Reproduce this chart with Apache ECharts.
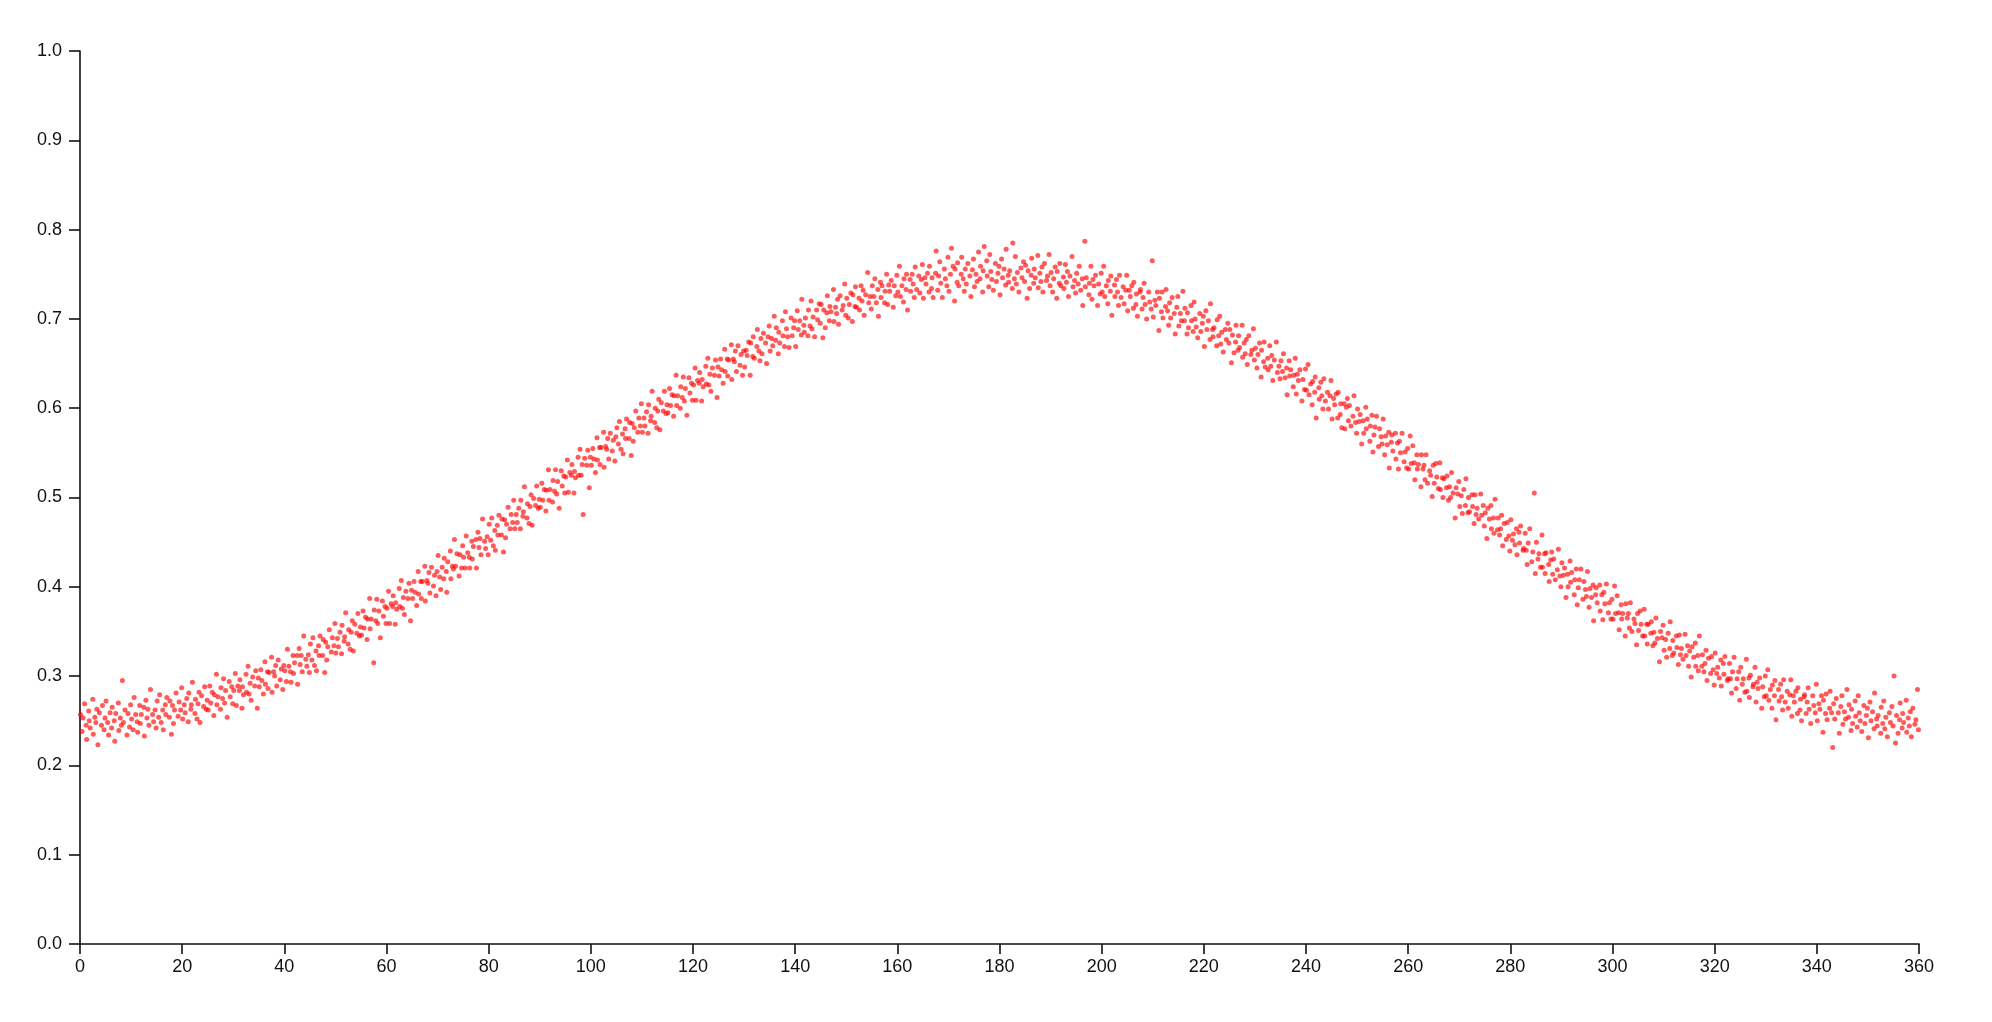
<!DOCTYPE html>
<html>
<head>
<meta charset="utf-8">
<script src="https://cdn.jsdelivr.net/npm/echarts@6/dist/echarts.min.js"></script>
<style>
html,body{margin:0;padding:0;background:#fff;}
#chart{width:1992px;height:1022px;}
</style>
</head>
<body>
<div id="chart"></div>
<script>
// Axis ranges and tick steps
const xRange = [0, 360];
const xStep = 20;
const yRange = [0, 1];
const yStep = 0.1;

// Scatter samples [angle, value] read (estimated) from the reference picture
const samples = [
[0.1,.257],[0.4,.238],[0.6,.253],[0.9,.269],
[1.2,.245],[1.3,.229],[1.7,.261],[1.8,.250],
[2.0,.242],[2.5,.274],[2.6,.235],[2.9,.254],
[3.1,.248],[3.3,.263],[3.5,.223],[3.8,.259],
[4.2,.245],[4.4,.267],[4.7,.240],[4.9,.253],
[5.1,.272],[5.4,.248],[5.6,.234],[5.9,.259],
[6.2,.242],[6.3,.265],[6.7,.250],[6.8,.227],
[7.0,.258],[7.5,.270],[7.6,.239],[7.9,.253],
[8.1,.245],[8.3,.295],[8.5,.248],[8.8,.262],
[9.2,.234],[9.4,.258],[9.7,.243],[9.9,.268],
[10.1,.252],[10.4,.240],[10.6,.276],[10.9,.257],
[11.2,.249],[11.3,.237],[11.7,.267],[11.8,.247],
[12.0,.257],[12.5,.265],[12.6,.233],[12.9,.273],
[13.1,.253],[13.3,.263],[13.5,.245],[13.8,.285],
[14.2,.257],[14.4,.249],[14.7,.262],[14.9,.242],
[15.1,.272],[15.4,.254],[15.6,.279],[15.9,.248],
[16.2,.262],[16.3,.240],[16.7,.268],[16.8,.257],
[17.0,.276],[17.5,.254],[17.6,.272],[17.9,.235],
[18.1,.267],[18.3,.247],[18.5,.262],[18.8,.281],
[19.2,.255],[19.4,.271],[19.7,.262],[19.9,.287],
[20.1,.252],[20.4,.268],[20.6,.259],[20.9,.275],
[21.2,.249],[21.3,.281],[21.7,.263],[21.8,.268],
[22.0,.293],[22.5,.258],[22.6,.274],[22.9,.252],
[23.1,.269],[23.3,.282],[23.5,.248],[23.8,.278],
[24.2,.266],[24.4,.288],[24.7,.263],[24.9,.273],
[25.1,.262],[25.4,.289],[25.6,.270],[25.9,.282],
[26.2,.256],[26.3,.279],[26.7,.302],[26.8,.268],
[27.0,.277],[27.5,.263],[27.6,.287],[27.9,.275],
[28.1,.297],[28.3,.270],[28.5,.284],[28.8,.254],
[29.2,.294],[29.4,.277],[29.7,.288],[29.9,.269],
[30.1,.284],[30.4,.303],[30.6,.267],[30.9,.289],
[31.2,.284],[31.3,.296],[31.7,.264],[31.8,.288],
[32.0,.279],[32.5,.302],[32.6,.282],[32.9,.311],
[33.1,.280],[33.3,.292],[33.5,.273],[33.8,.299],
[34.2,.289],[34.4,.306],[34.7,.264],[34.9,.298],
[35.1,.288],[35.4,.307],[35.6,.295],[35.9,.280],
[36.2,.316],[36.3,.291],[36.7,.305],[36.8,.286],
[37.0,.304],[37.5,.321],[37.6,.282],[37.9,.305],
[38.1,.300],[38.3,.312],[38.5,.289],[38.8,.318],
[39.2,.296],[39.4,.308],[39.7,.285],[39.9,.312],
[40.1,.306],[40.4,.294],[40.6,.330],[40.9,.311],
[41.2,.305],[41.3,.293],[41.7,.323],[41.8,.303],
[42.0,.315],[42.5,.323],[42.6,.291],[42.9,.331],
[43.1,.313],[43.3,.323],[43.5,.305],[43.8,.345],
[44.2,.319],[44.4,.311],[44.7,.324],[44.9,.304],
[45.1,.336],[45.4,.318],[45.6,.343],[45.9,.312],
[46.2,.328],[46.3,.306],[46.7,.334],[46.8,.323],
[47.0,.345],[47.5,.323],[47.6,.341],[47.9,.304],
[48.1,.338],[48.3,.318],[48.5,.333],[48.8,.352],
[49.2,.327],[49.4,.343],[49.7,.334],[49.9,.359],
[50.1,.326],[50.4,.342],[50.6,.333],[50.9,.349],
[51.2,.325],[51.3,.357],[51.7,.339],[51.8,.344],
[52.0,.371],[52.5,.336],[52.6,.352],[52.9,.330],
[53.1,.349],[53.3,.362],[53.5,.328],[53.8,.358],
[54.2,.348],[54.4,.370],[54.7,.345],[54.9,.355],
[55.1,.346],[55.4,.373],[55.6,.354],[55.9,.366],
[56.2,.341],[56.3,.364],[56.7,.387],[56.8,.353],
[57.0,.364],[57.5,.315],[57.6,.374],[57.9,.362],
[58.1,.386],[58.3,.359],[58.5,.373],[58.8,.343],
[59.2,.384],[59.4,.367],[59.7,.378],[59.9,.359],
[60.1,.376],[60.4,.395],[60.6,.359],[60.9,.381],
[61.2,.378],[61.3,.390],[61.7,.358],[61.8,.382],
[62.0,.375],[62.5,.398],[62.6,.378],[62.9,.407],
[63.1,.376],[63.3,.388],[63.5,.369],[63.8,.395],
[64.2,.387],[64.4,.404],[64.7,.362],[64.9,.396],
[65.1,.387],[65.4,.406],[65.6,.394],[65.9,.379],
[66.2,.417],[66.3,.392],[66.7,.406],[66.8,.387],
[67.0,.406],[67.5,.423],[67.6,.384],[67.9,.407],
[68.1,.404],[68.3,.416],[68.5,.393],[68.8,.422],
[69.2,.401],[69.4,.413],[69.7,.390],[69.9,.417],
[70.1,.435],[70.4,.411],[70.6,.397],[70.9,.422],
[71.2,.409],[71.3,.432],[71.7,.417],[71.8,.394],
[72.0,.428],[72.5,.440],[72.6,.409],[72.9,.423],
[73.1,.420],[73.3,.453],[73.5,.423],[73.8,.437],
[74.2,.412],[74.4,.436],[74.7,.421],[74.9,.446],
[75.1,.433],[75.4,.421],[75.6,.457],[75.9,.438],
[76.2,.433],[76.3,.421],[76.7,.451],[76.8,.431],
[77.0,.445],[77.5,.453],[77.6,.421],[77.9,.461],
[78.1,.444],[78.3,.454],[78.5,.436],[78.8,.476],
[79.2,.451],[79.4,.443],[79.7,.456],[79.9,.436],
[80.1,.470],[80.4,.452],[80.6,.477],[80.9,.446],
[81.2,.463],[81.3,.441],[81.7,.469],[81.8,.458],
[82.0,.480],[82.5,.458],[82.6,.476],[82.9,.439],
[83.1,.475],[83.3,.455],[83.5,.470],[83.8,.489],
[84.2,.465],[84.4,.481],[84.7,.472],[84.9,.497],
[85.1,.465],[85.4,.481],[85.6,.472],[85.9,.488],
[86.2,.465],[86.3,.497],[86.7,.479],[86.8,.484],
[87.0,.512],[87.5,.477],[87.6,.493],[87.9,.471],
[88.1,.490],[88.3,.503],[88.5,.469],[88.8,.499],
[89.2,.491],[89.4,.513],[89.7,.488],[89.9,.498],
[90.1,.489],[90.4,.516],[90.6,.497],[90.9,.509],
[91.2,.485],[91.3,.508],[91.7,.531],[91.8,.497],
[92.0,.509],[92.5,.495],[92.6,.519],[92.9,.507],
[93.1,.531],[93.3,.504],[93.5,.518],[93.8,.488],
[94.2,.530],[94.4,.513],[94.7,.524],[94.9,.505],
[95.1,.523],[95.4,.542],[95.6,.506],[95.9,.528],
[96.2,.525],[96.3,.537],[96.7,.505],[96.8,.529],
[97.0,.522],[97.5,.545],[97.6,.525],[97.9,.554],
[98.1,.525],[98.3,.537],[98.5,.481],[98.8,.544],
[99.2,.536],[99.4,.553],[99.7,.511],[99.9,.545],
[100.1,.536],[100.4,.555],[100.6,.543],[100.9,.528],
[101.2,.567],[101.3,.542],[101.7,.556],[101.8,.537],
[102.0,.556],[102.5,.573],[102.6,.534],[102.9,.557],
[103.1,.554],[103.3,.566],[103.5,.543],[103.8,.572],
[104.2,.552],[104.4,.564],[104.7,.541],[104.9,.568],
[105.1,.578],[105.4,.560],[105.6,.585],[105.9,.554],
[106.2,.571],[106.3,.549],[106.7,.577],[106.8,.566],
[107.0,.588],[107.5,.566],[107.6,.584],[107.9,.547],
[108.1,.583],[108.3,.563],[108.5,.578],[108.8,.597],
[109.2,.573],[109.4,.589],[109.7,.580],[109.9,.605],
[110.1,.573],[110.4,.589],[110.6,.580],[110.9,.596],
[111.2,.572],[111.3,.604],[111.7,.586],[111.8,.591],
[112.0,.619],[112.5,.584],[112.6,.600],[112.9,.578],
[113.1,.597],[113.3,.610],[113.5,.576],[113.8,.606],
[114.2,.597],[114.4,.619],[114.7,.594],[114.9,.604],
[115.1,.595],[115.4,.622],[115.6,.603],[115.9,.615],
[116.2,.591],[116.3,.614],[116.7,.637],[116.8,.603],
[117.0,.614],[117.5,.600],[117.6,.624],[117.9,.612],
[118.1,.635],[118.3,.608],[118.5,.622],[118.8,.592],
[119.2,.634],[119.4,.617],[119.7,.628],[119.9,.609],
[120.1,.626],[120.4,.645],[120.6,.609],[120.9,.631],
[121.2,.628],[121.3,.640],[121.7,.608],[121.8,.632],
[122.0,.624],[122.5,.647],[122.6,.627],[122.9,.656],
[123.1,.626],[123.3,.638],[123.5,.619],[123.8,.645],
[124.2,.637],[124.4,.654],[124.7,.612],[124.9,.646],
[125.1,.636],[125.4,.655],[125.6,.643],[125.9,.628],
[126.2,.666],[126.3,.641],[126.7,.655],[126.8,.636],
[127.0,.654],[127.5,.671],[127.6,.632],[127.9,.655],
[128.1,.652],[128.3,.664],[128.5,.641],[128.8,.670],
[129.2,.648],[129.4,.660],[129.7,.637],[129.9,.664],
[130.1,.646],[130.4,.665],[130.6,.659],[130.9,.674],
[131.2,.637],[131.3,.673],[131.7,.658],[131.8,.680],
[132.0,.656],[132.5,.669],[132.6,.688],[132.9,.664],
[133.1,.653],[133.3,.678],[133.5,.661],[133.8,.684],
[134.2,.673],[134.4,.650],[134.7,.680],[134.9,.692],
[135.1,.664],[135.4,.678],[135.6,.670],[135.9,.703],
[136.2,.676],[136.3,.690],[136.7,.661],[136.8,.685],
[137.0,.673],[137.5,.698],[137.6,.681],[137.9,.669],
[138.1,.708],[138.3,.689],[138.5,.680],[138.8,.668],
[139.2,.701],[139.4,.681],[139.7,.690],[139.9,.698],
[140.1,.669],[140.4,.709],[140.6,.688],[140.9,.698],
[141.2,.682],[141.3,.722],[141.7,.693],[141.8,.685],
[142.0,.701],[142.5,.681],[142.6,.710],[142.9,.692],
[143.1,.720],[143.3,.689],[143.5,.702],[143.8,.680],
[144.2,.710],[144.4,.699],[144.7,.717],[144.9,.695],
[145.1,.716],[145.4,.679],[145.6,.710],[145.9,.690],
[146.2,.707],[146.3,.726],[146.7,.698],[146.8,.714],
[147.0,.708],[147.5,.733],[147.6,.697],[147.9,.713],
[148.1,.706],[148.3,.722],[148.5,.694],[148.8,.726],
[149.2,.710],[149.4,.715],[149.7,.739],[149.9,.704],
[150.1,.723],[150.4,.701],[150.6,.716],[150.9,.729],
[151.2,.697],[151.3,.727],[151.7,.714],[151.8,.736],
[152.0,.713],[152.5,.723],[152.6,.710],[152.9,.737],
[153.1,.720],[153.3,.732],[153.5,.704],[153.8,.727],
[154.2,.752],[154.4,.718],[154.7,.725],[154.9,.711],
[155.1,.737],[155.4,.725],[155.6,.745],[155.9,.718],
[156.2,.733],[156.3,.703],[156.7,.741],[156.8,.724],
[157.0,.737],[157.5,.718],[157.6,.731],[157.9,.750],
[158.1,.716],[158.3,.738],[158.5,.731],[158.8,.743],
[159.2,.713],[159.4,.737],[159.7,.726],[159.9,.749],
[160.1,.730],[160.4,.759],[160.6,.725],[160.9,.737],
[161.2,.719],[161.3,.745],[161.7,.733],[161.8,.750],
[162.0,.710],[162.5,.744],[162.6,.731],[162.9,.750],
[163.1,.739],[163.3,.724],[163.5,.758],[163.8,.733],
[164.2,.748],[164.4,.729],[164.7,.744],[164.9,.761],
[165.1,.723],[165.4,.746],[165.6,.739],[165.9,.751],
[166.2,.730],[166.3,.759],[166.7,.734],[166.8,.746],
[167.0,.724],[167.5,.751],[167.6,.776],[167.9,.732],
[168.1,.748],[168.3,.764],[168.5,.740],[168.8,.724],
[169.2,.756],[169.4,.745],[169.7,.737],[169.9,.769],
[170.1,.731],[170.4,.750],[170.6,.779],[170.9,.759],
[171.2,.720],[171.3,.756],[171.7,.741],[171.8,.763],
[172.0,.737],[172.5,.750],[172.6,.769],[172.9,.745],
[173.1,.731],[173.3,.756],[173.5,.739],[173.8,.762],
[174.2,.748],[174.4,.725],[174.7,.755],[174.9,.767],
[175.1,.736],[175.4,.750],[175.6,.742],[175.9,.775],
[176.2,.745],[176.3,.759],[176.7,.730],[176.8,.754],
[177.0,.781],[177.5,.765],[177.6,.748],[177.9,.736],
[178.1,.772],[178.3,.753],[178.5,.744],[178.8,.732],
[179.2,.762],[179.4,.742],[179.7,.751],[179.9,.759],
[180.1,.727],[180.4,.767],[180.6,.746],[180.9,.756],
[181.2,.738],[181.3,.778],[181.7,.749],[181.8,.741],
[182.0,.754],[182.5,.734],[182.6,.785],[182.9,.745],
[183.1,.770],[183.3,.739],[183.5,.752],[183.8,.730],
[184.2,.757],[184.4,.746],[184.7,.764],[184.9,.742],
[185.1,.760],[185.4,.723],[185.6,.754],[185.9,.734],
[186.2,.749],[186.3,.768],[186.7,.740],[186.8,.756],
[187.0,.746],[187.5,.771],[187.6,.735],[187.9,.751],
[188.1,.742],[188.3,.758],[188.5,.730],[188.8,.762],
[189.2,.743],[189.4,.748],[189.7,.772],[189.9,.737],
[190.1,.752],[190.4,.730],[190.6,.745],[190.9,.758],
[191.2,.723],[191.3,.753],[191.7,.740],[191.8,.762],
[192.0,.737],[192.5,.747],[192.6,.734],[192.9,.761],
[193.1,.741],[193.3,.753],[193.5,.725],[193.8,.748],
[194.2,.770],[194.4,.736],[194.7,.743],[194.9,.729],
[195.1,.751],[195.4,.739],[195.6,.759],[195.9,.732],
[196.2,.745],[196.3,.715],[196.7,.787],[196.8,.736],
[197.0,.746],[197.5,.727],[197.6,.740],[197.9,.759],
[198.1,.722],[198.3,.744],[198.5,.737],[198.8,.749],
[199.2,.715],[199.4,.739],[199.7,.728],[199.9,.751],
[200.1,.730],[200.4,.759],[200.6,.725],[200.9,.737],
[201.2,.717],[201.3,.743],[201.7,.731],[201.8,.748],
[202.0,.704],[202.5,.738],[202.6,.725],[202.9,.744],
[203.1,.730],[203.3,.715],[203.5,.749],[203.8,.724],
[204.2,.736],[204.4,.717],[204.7,.732],[204.9,.749],
[205.1,.709],[205.4,.732],[205.6,.725],[205.9,.737],
[206.2,.712],[206.3,.741],[206.7,.716],[206.8,.728],
[207.0,.703],[207.5,.730],[207.6,.733],[207.9,.711],
[208.1,.724],[208.3,.740],[208.5,.716],[208.8,.700],
[209.2,.730],[209.4,.719],[209.7,.711],[209.9,.765],
[210.1,.702],[210.4,.721],[210.6,.715],[210.9,.730],
[211.2,.687],[211.3,.723],[211.7,.708],[211.8,.730],
[212.0,.701],[212.5,.714],[212.6,.733],[212.9,.709],
[213.1,.693],[213.3,.718],[213.5,.701],[213.8,.724],
[214.2,.706],[214.4,.683],[214.7,.713],[214.9,.725],
[215.1,.692],[215.4,.706],[215.6,.698],[215.9,.731],
[216.2,.698],[216.3,.712],[216.7,.683],[216.8,.707],
[217.0,.690],[217.5,.715],[217.6,.698],[217.9,.686],
[218.1,.719],[218.3,.700],[218.5,.691],[218.8,.679],
[219.2,.706],[219.4,.686],[219.7,.695],[219.9,.703],
[220.1,.669],[220.4,.709],[220.6,.688],[220.9,.698],
[221.2,.677],[221.3,.717],[221.7,.688],[221.8,.680],
[222.0,.690],[222.5,.670],[222.6,.699],[222.9,.681],
[223.1,.703],[223.3,.672],[223.5,.685],[223.8,.663],
[224.2,.688],[224.4,.677],[224.7,.695],[224.9,.673],
[225.1,.688],[225.4,.651],[225.6,.682],[225.9,.662],
[226.2,.674],[226.3,.693],[226.7,.665],[226.8,.681],
[227.0,.668],[227.5,.693],[227.6,.657],[227.9,.673],
[228.1,.661],[228.3,.677],[228.5,.649],[228.8,.681],
[229.2,.660],[229.4,.665],[229.7,.689],[229.9,.654],
[230.1,.667],[230.4,.645],[230.6,.660],[230.9,.673],
[231.2,.635],[231.3,.665],[231.7,.652],[231.8,.674],
[232.0,.646],[232.5,.656],[232.6,.643],[232.9,.670],
[233.1,.647],[233.3,.659],[233.5,.631],[233.8,.654],
[234.2,.674],[234.4,.640],[234.7,.647],[234.9,.633],
[235.1,.653],[235.4,.641],[235.6,.661],[235.9,.634],
[236.2,.645],[236.3,.615],[236.7,.653],[236.8,.636],
[237.0,.643],[237.5,.624],[237.6,.637],[237.9,.656],
[238.1,.616],[238.3,.638],[238.5,.631],[238.8,.643],
[239.2,.608],[239.4,.632],[239.7,.621],[239.9,.644],
[240.1,.620],[240.4,.649],[240.6,.615],[240.9,.627],
[241.2,.604],[241.3,.630],[241.7,.618],[241.8,.635],
[242.0,.589],[242.5,.623],[242.6,.610],[242.9,.629],
[243.1,.614],[243.3,.599],[243.5,.633],[243.8,.608],
[244.2,.618],[244.4,.599],[244.7,.614],[244.9,.631],
[245.1,.588],[245.4,.611],[245.6,.604],[245.9,.616],
[246.2,.589],[246.3,.618],[246.7,.593],[246.8,.605],
[247.0,.578],[247.5,.605],[247.6,.577],[247.9,.601],
[248.1,.611],[248.3,.586],[248.5,.603],[248.8,.580],
[249.2,.591],[249.4,.614],[249.7,.584],[249.9,.572],
[250.1,.599],[250.4,.585],[250.6,.593],[250.9,.560],
[251.2,.586],[251.3,.572],[251.7,.601],[251.8,.577],
[252.0,.588],[252.5,.563],[252.6,.580],[252.9,.592],
[253.1,.551],[253.3,.570],[253.5,.579],[253.8,.591],
[254.2,.557],[254.4,.577],[254.7,.568],[254.9,.560],
[255.1,.588],[255.4,.548],[255.6,.569],[255.9,.559],
[256.2,.573],[256.3,.533],[256.7,.562],[256.8,.570],
[257.0,.552],[257.5,.572],[257.6,.543],[257.9,.561],
[258.1,.532],[258.3,.563],[258.5,.550],[258.8,.572],
[259.2,.540],[259.4,.551],[259.7,.533],[259.9,.555],
[260.1,.532],[260.4,.569],[260.6,.538],[260.9,.558],
[261.2,.539],[261.3,.520],[261.7,.548],[261.8,.532],
[262.0,.537],[262.5,.512],[262.6,.548],[262.9,.532],
[263.1,.536],[263.3,.520],[263.5,.548],[263.8,.516],
[264.2,.530],[264.4,.525],[264.7,.501],[264.9,.536],
[265.1,.516],[265.4,.538],[265.6,.523],[265.9,.510],
[266.2,.539],[266.3,.509],[266.7,.522],[266.8,.500],
[267.0,.521],[267.5,.511],[267.6,.524],[267.9,.497],
[268.1,.512],[268.3,.500],[268.5,.528],[268.8,.505],
[269.2,.477],[269.4,.511],[269.7,.504],[269.9,.518],
[270.1,.490],[270.4,.502],[270.6,.482],[270.9,.509],
[271.2,.491],[271.3,.521],[271.7,.483],[271.8,.500],
[272.0,.484],[272.5,.503],[272.6,.490],[272.9,.471],
[273.1,.503],[273.3,.481],[273.5,.488],[273.8,.476],
[274.2,.504],[274.4,.480],[274.7,.491],[274.9,.468],
[275.1,.483],[275.4,.454],[275.6,.488],[275.9,.476],
[276.2,.491],[276.3,.465],[276.7,.477],[276.8,.460],
[277.0,.498],[277.5,.464],[277.6,.477],[277.9,.458],
[278.1,.465],[278.3,.480],[278.5,.446],[278.8,.471],
[279.2,.453],[279.4,.472],[279.7,.457],[279.9,.440],
[280.1,.475],[280.4,.452],[280.6,.459],[280.9,.447],
[281.2,.465],[281.3,.436],[281.7,.461],[281.8,.449],
[282.0,.468],[282.5,.441],[282.6,.443],[282.9,.460],
[283.1,.441],[283.3,.425],[283.5,.449],[283.8,.465],
[284.2,.428],[284.4,.439],[284.7,.505],[284.9,.415],
[285.1,.450],[285.4,.431],[285.6,.437],[285.9,.422],
[286.2,.458],[286.3,.422],[286.7,.437],[286.8,.415],
[287.0,.438],[287.5,.425],[287.6,.406],[287.9,.430],
[288.1,.439],[288.3,.414],[288.5,.431],[288.8,.408],
[289.2,.419],[289.4,.442],[289.7,.412],[289.9,.400],
[290.1,.427],[290.4,.413],[290.6,.421],[290.9,.388],
[291.2,.414],[291.3,.400],[291.7,.429],[291.8,.405],
[292.0,.416],[292.5,.391],[292.6,.408],[292.9,.420],
[293.1,.380],[293.3,.399],[293.5,.408],[293.8,.420],
[294.2,.386],[294.4,.406],[294.7,.397],[294.9,.389],
[295.1,.417],[295.4,.377],[295.6,.398],[295.9,.388],
[296.2,.402],[296.3,.362],[296.7,.391],[296.8,.399],
[297.0,.382],[297.5,.402],[297.6,.373],[297.9,.391],
[298.1,.363],[298.3,.394],[298.5,.381],[298.8,.403],
[299.2,.371],[299.4,.382],[299.7,.364],[299.9,.386],
[300.1,.364],[300.4,.401],[300.6,.370],[300.9,.390],
[301.2,.371],[301.3,.352],[301.7,.380],[301.8,.364],
[302.0,.370],[302.5,.345],[302.6,.381],[302.9,.365],
[303.1,.370],[303.3,.354],[303.5,.382],[303.8,.350],
[304.2,.364],[304.4,.359],[304.7,.335],[304.9,.370],
[305.1,.351],[305.4,.373],[305.6,.358],[305.9,.345],
[306.2,.375],[306.3,.345],[306.7,.358],[306.8,.336],
[307.0,.358],[307.5,.348],[307.6,.361],[307.9,.334],
[308.1,.349],[308.3,.337],[308.5,.365],[308.8,.342],
[309.2,.316],[309.4,.350],[309.7,.343],[309.9,.357],
[310.1,.329],[310.4,.341],[310.6,.321],[310.9,.348],
[311.2,.331],[311.3,.361],[311.7,.323],[311.8,.340],
[312.0,.326],[312.5,.345],[312.6,.332],[312.9,.313],
[313.1,.346],[313.3,.324],[313.5,.331],[313.8,.319],
[314.2,.347],[314.4,.323],[314.7,.334],[314.9,.311],
[315.1,.328],[315.4,.299],[315.6,.333],[315.9,.321],
[316.2,.337],[316.3,.311],[316.7,.323],[316.8,.306],
[317.0,.345],[317.5,.311],[317.6,.324],[317.9,.305],
[318.1,.314],[318.3,.329],[318.5,.295],[318.8,.320],
[319.2,.303],[319.4,.322],[319.7,.307],[319.9,.290],
[320.1,.326],[320.4,.303],[320.6,.310],[320.9,.298],
[321.2,.318],[321.3,.289],[321.7,.314],[321.8,.302],
[322.0,.322],[322.5,.295],[322.6,.297],[322.9,.314],
[323.1,.297],[323.3,.281],[323.5,.305],[323.8,.321],
[324.2,.286],[324.4,.297],[324.7,.305],[324.9,.273],
[325.1,.310],[325.4,.291],[325.6,.297],[325.9,.282],
[326.2,.319],[326.3,.283],[326.7,.298],[326.8,.276],
[327.0,.301],[327.5,.288],[327.6,.291],[327.9,.310],
[328.1,.271],[328.3,.293],[328.5,.286],[328.8,.298],
[329.2,.264],[329.4,.288],[329.7,.277],[329.9,.300],
[330.1,.278],[330.4,.307],[330.6,.273],[330.9,.285],
[331.2,.264],[331.3,.290],[331.7,.278],[331.8,.295],
[332.0,.251],[332.5,.285],[332.6,.272],[332.9,.291],
[333.1,.277],[333.3,.262],[333.5,.296],[333.8,.271],
[334.2,.283],[334.4,.264],[334.7,.279],[334.9,.296],
[335.1,.255],[335.4,.278],[335.6,.271],[335.9,.283],
[336.2,.258],[336.3,.287],[336.7,.262],[336.8,.274],
[337.0,.250],[337.5,.277],[337.6,.279],[337.9,.258],
[338.1,.271],[338.3,.287],[338.5,.263],[338.8,.247],
[339.2,.278],[339.4,.267],[339.7,.259],[339.9,.291],
[340.1,.250],[340.4,.269],[340.6,.263],[340.9,.278],
[341.2,.237],[341.3,.273],[341.7,.258],[341.8,.280],
[342.0,.251],[342.5,.264],[342.6,.283],[342.9,.259],
[343.1,.220],[343.3,.269],[343.5,.252],[343.8,.275],
[344.2,.259],[344.4,.236],[344.7,.266],[344.9,.278],
[345.1,.246],[345.4,.260],[345.6,.252],[345.9,.285],
[346.2,.254],[346.3,.268],[346.7,.239],[346.8,.263],
[347.0,.247],[347.5,.272],[347.6,.255],[347.9,.243],
[348.1,.278],[348.3,.259],[348.5,.250],[348.8,.238],
[349.2,.267],[349.4,.247],[349.7,.256],[349.9,.264],
[350.1,.231],[350.4,.271],[350.6,.250],[350.9,.260],
[351.2,.241],[351.3,.281],[351.7,.252],[351.8,.244],
[352.0,.256],[352.5,.236],[352.6,.265],[352.9,.247],
[353.1,.272],[353.3,.241],[353.5,.254],[353.8,.232],
[354.2,.259],[354.4,.248],[354.7,.266],[354.9,.244],
[355.1,.300],[355.4,.225],[355.6,.256],[355.9,.236],
[356.2,.251],[356.3,.270],[356.7,.242],[356.8,.258],
[357.0,.248],[357.5,.273],[357.6,.237],[357.9,.253],
[358.1,.244],[358.3,.260],[358.5,.232],[358.8,.264],
[359.2,.246],[359.4,.251],[359.7,.285],[359.9,.240]
];

const chart = echarts.init(document.getElementById('chart'), null, {renderer: 'canvas'});
const font = '"Liberation Sans", Arial, Helvetica, sans-serif';
const axisLineStyle = {color: '#111', width: 1.6};
chart.setOption({
  animation: false,
  backgroundColor: '#fff',
  grid: {left: 80, right: 73, top: 51, bottom: 78, containLabel: false},
  xAxis: {
    type: 'value', min: xRange[0], max: xRange[1], interval: xStep,
    axisLine: {show: true, onZero: false, lineStyle: axisLineStyle},
    axisTick: {show: true, length: 10, lineStyle: axisLineStyle},
    splitLine: {show: false},
    axisLabel: {color: '#111', fontSize: 18, fontFamily: font, margin: 14}
  },
  yAxis: {
    type: 'value', min: yRange[0], max: yRange[1], interval: yStep,
    axisLine: {show: true, onZero: false, lineStyle: axisLineStyle},
    axisTick: {show: true, length: 11, lineStyle: axisLineStyle},
    splitLine: {show: false},
    axisLabel: {color: '#111', fontSize: 18, fontFamily: font, margin: 18, formatter: v => v.toFixed(1)}
  },
  series: [{
    type: 'scatter',
    data: samples,
    symbol: 'circle',
    symbolSize: 5,
    itemStyle: {color: 'rgba(255,5,5,0.82)'},
    large: false
  }]
});
</script>
</body>
</html>
